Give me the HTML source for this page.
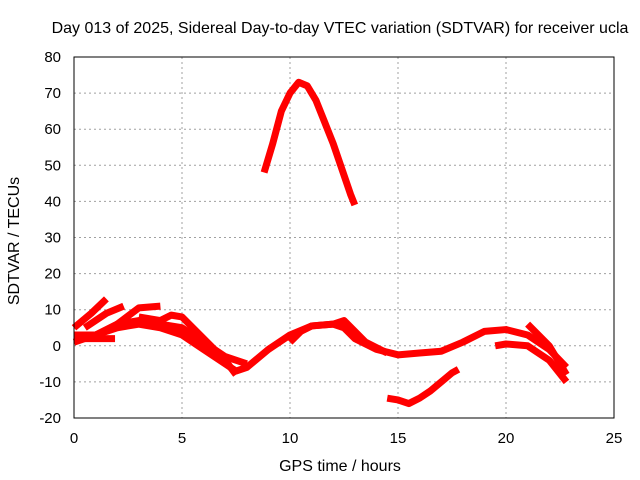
<!DOCTYPE html>
<html><head><meta charset="utf-8"><style>
html,body{margin:0;padding:0;background:#fff;}
svg{display:block;font-family:"Liberation Sans",sans-serif;}
</style></head><body>
<svg id="chart" width="640" height="480">
<text x="340" y="33" font-size="16" text-anchor="middle">Day 013 of 2025, Sidereal Day-to-day VTEC variation (SDTVAR) for receiver ucla</text>
<text x="340" y="471" font-size="16" text-anchor="middle">GPS time / hours</text>
<text transform="translate(19,241) rotate(-90)" font-size="16" text-anchor="middle">SDTVAR / TECUs</text>
<g id="grid"></g><g id="ticks"></g><g id="series"></g>
<rect x="74" y="57" width="540" height="361" fill="none" stroke="#000" stroke-width="1"/>
</svg>
<script>
const xTicks=[0,5,10,15,20,25];
const yTicks=[-20,-10,0,10,20,30,40,50,60,70,80];
const peakArc=[[8.8,48],[9.2,56],[9.6,65],[10.0,70],[10.4,73],[10.8,72],[11.2,68],[11.6,62],[12.0,56],[12.4,49],[12.8,42],[13.0,39]];
const lowArc=[[14.5,-14.5],[15.0,-15],[15.5,-16],[16.0,-14.5],[16.5,-12.5],[17.0,-10],[17.5,-7.5],[17.8,-6.5]];
const mainBand=[[0,1],[0.5,2],[1,3],[2,5],[3,6],[4,5],[5,3],[6,-1],[7,-5],[7.5,-7],[8,-6],[9,-1],[10,3],[11,5.5],[12,6],[12.5,5],[13,2],[14,-1],[15,-2.5],[16,-2],[17,-1.5],[18,1],[19,4],[20,4.5],[21,3],[22,-1],[22.8,-6]];
const band2=[[0,3],[1,3],[2,6],[3,7],[4,6],[5,5],[6,1],[7,-3],[8,-5]];
const branchA=[[0,5],[0.8,9],[1.5,13]];
const branchB=[[0.5,5],[1.5,9],[2.3,11]];
const branchC=[[2,6],[3,10.5],[4,11]];
const band3=[[3,8],[4,7],[4.5,8.5],[5,8],[6,2],[7,-4],[7.5,-8]];
const band4=[[10,1],[10.5,4],[11,5.5],[12,6],[12.5,7],[13,4],[13.5,1],[14.5,-2]];
const band5=[[19.5,0],[20,0.5],[21,0],[22,-4],[22.8,-10]];
const band6=[[21,6],[22,0],[22.8,-8]];
const shortSeg=[[0.5,2],[1.5,2],[1.9,2]];
const allSeries=[peakArc,lowArc,mainBand,band2,branchA,branchB,branchC,band3,band4,band5,band6,shortSeg];
const NS="http://www.w3.org/2000/svg";
function xs(h){return 74+h*(540/25);}
function ys(v){return 418-(v+20)*(361/100);}
const grid=document.getElementById('grid'),ticks=document.getElementById('ticks'),ser=document.getElementById('series');
xTicks.forEach(t=>{
 const l=document.createElementNS(NS,'line');
 
 
 l.setAttribute('x1',xs(t));l.setAttribute('x2',xs(t));l.setAttribute('y1',57);l.setAttribute('y2',418);
 l.setAttribute('stroke','#a0a0a0');l.setAttribute('stroke-dasharray','2,3');grid.appendChild(l);
 const tx=document.createElementNS(NS,'text');
 
 
 tx.setAttribute('x',xs(t));tx.setAttribute('y',443);tx.setAttribute('font-size','15');tx.setAttribute('text-anchor','middle');
 tx.textContent=t;ticks.appendChild(tx);
});
yTicks.forEach(t=>{
 const l=document.createElementNS(NS,'line');
 
 
 l.setAttribute('x1',74);l.setAttribute('x2',614);l.setAttribute('y1',ys(t));l.setAttribute('y2',ys(t));
 l.setAttribute('stroke','#a0a0a0');l.setAttribute('stroke-dasharray','2,3');grid.appendChild(l);
 const tx=document.createElementNS(NS,'text');
 
 
 tx.setAttribute('x',61);tx.setAttribute('y',ys(t)+5);tx.setAttribute('font-size','15');tx.setAttribute('text-anchor','end');
 tx.textContent=t;ticks.appendChild(tx);
});
allSeries.forEach(s=>{
 const p=document.createElementNS(NS,'polyline');
 
 
 p.setAttribute('points',s.map(d=>xs(d[0])+','+ys(d[1])).join(' '));
 p.setAttribute('fill','none');p.setAttribute('stroke','#ff0000');p.setAttribute('stroke-width','7');
 p.setAttribute('stroke-linejoin','round');
 ser.appendChild(p);
});
</script>
</body></html>
